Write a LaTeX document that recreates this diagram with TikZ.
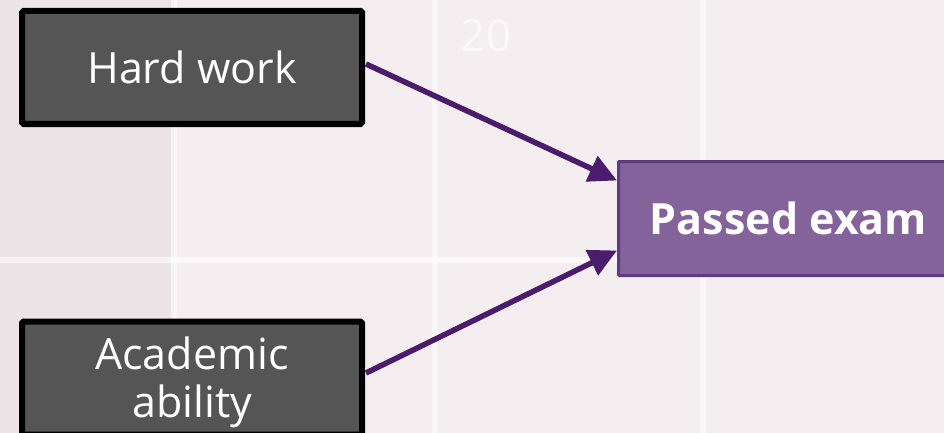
\documentclass[tikz,border=0pt]{standalone}
\usepackage{fontspec}
\setmainfont{Open Sans}
\usetikzlibrary{arrows.meta,calc}

\definecolor{bgpink}{HTML}{F4EEF1}
\definecolor{bgpinkdark}{HTML}{EDE4E8}
\definecolor{boxgrey}{HTML}{555555}
\definecolor{examfill}{HTML}{84629A}
\definecolor{examedge}{HTML}{5E3A80}
\definecolor{arrowpurple}{HTML}{4B1C6B}

\tikzset{
  labeltext/.style={text=white, align=center, font=\fontsize{43}{48}\selectfont},
  factorbox/.style={draw=black, line width=6pt, fill=boxgrey, rounded corners=1.5pt,
    minimum width=340pt, minimum height=113pt, inner sep=0pt, labeltext},
  outcomebox/.style={draw=examedge, line width=3pt, fill=examfill, rounded corners=1pt,
    minimum width=340pt, minimum height=114pt, inner sep=0pt,
    text=white, font=\fontsize{43}{48}\selectfont\bfseries},
  causal/.style={draw=arrowpurple, line width=5.5pt,
    -{Triangle[length=28pt,width=27pt]}},
  gridline/.style={draw=white, line width=6pt, opacity=0.55}
}

\begin{document}
\begin{tikzpicture}[x=1pt,y=-1pt]
  % backdrop
  \fill[bgpink] (0,0) rectangle (944,433);
  \fill[bgpinkdark] (0,0) rectangle (174,433);
  \useasboundingbox (0,0) rectangle (944,433);
  \draw[gridline] (174,0) -- (174,433);
  \draw[gridline] (435,0) -- (435,433);
  \draw[gridline] (703,0) -- (703,433);
  \draw[gridline] (0,260) -- (944,260);

  % slide number
  \node[text=white, opacity=0.6, font=\fontsize{44}{50}\selectfont] (slideno) at (486,36) {20};

  % nodes
  \node[factorbox] (hw) at (192,67.5) {Hard work};
  \node[factorbox] (ab) at (192,378) {};
  \node[labeltext] (abtext) at ($(ab.center)+(0,4)$) {Academic\\ability};
  \node[outcomebox] (pe) at (788.5,218.5) {Passed exam};

  % connectors
  \draw[causal] ($(hw.east)+(1,-3.5)$) -- ($(pe.west)+(0,-38)$);
  \draw[causal] ($(ab.east)+(1,-5)$) -- ($(pe.west)+(0,32)$);
\end{tikzpicture}
\end{document}
